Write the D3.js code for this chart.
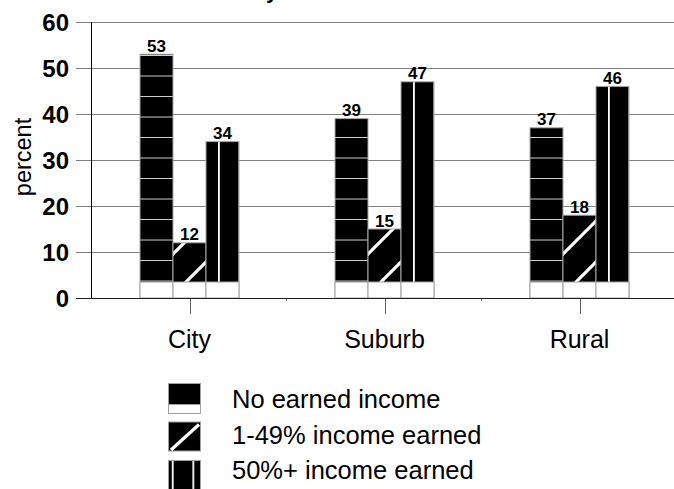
<!DOCTYPE html>
<html>
<head>
<meta charset="utf-8">
<script src="https://cdn.jsdelivr.net/npm/d3@7"></script>
<style>
  html, body { margin: 0; padding: 0; background: #fff; }
  svg { display: block; }
  text { font-family: "Liberation Sans", Arial, sans-serif; fill: #000; }
</style>
</head>
<body>
<svg id="chart" width="674" height="489"></svg>
<script>
// ---- data ----
const categories = ["City", "Suburb", "Rural"];
const seriesNames = ["No earned income", "1-49% income earned", "50%+ income earned"];
const noEarned = [53, 39, 37];
const partEarned = [12, 15, 18];
const mostEarned = [34, 47, 46];
const yTicks = [0, 10, 20, 30, 40, 50, 60];
const yLabel = "percent";
const titleText = "Families by Location";

const seriesValues = [noEarned, partEarned, mostEarned];
const patternIds = ["pHoriz", "pDiag", "pVert"];

const svg = d3.select("#chart");
const W = 674, H = 489;

const y = d3.scaleLinear().domain([0, 60]).range([298, 22]);
const x = d3.scaleBand().domain(categories).range([92, 677]).padding(0);
const xs = d3.scaleBand().domain(seriesNames).range([48, 147]).padding(0);

// ---- patterns ----
const defs = svg.append("defs");
const ph = defs.append("pattern").attr("id", "pHoriz").attr("patternUnits", "userSpaceOnUse")
  .attr("width", 20).attr("height", 20.5).attr("y", 15 - 20.5);
ph.append("rect").attr("width", 20).attr("height", 20.5).attr("fill", "#000");
ph.append("rect").attr("y", 20.5 - 0.8).attr("width", 20).attr("height", 1.6).attr("fill", "#fff");
const pv = defs.append("pattern").attr("id", "pVert").attr("patternUnits", "userSpaceOnUse")
  .attr("width", 20.6).attr("height", 20).attr("x", 3.3 - 0.9);
pv.append("rect").attr("width", 20.6).attr("height", 20).attr("fill", "#000");
pv.append("rect").attr("x", 0).attr("width", 1.8).attr("height", 20).attr("fill", "#fff");
const pd = defs.append("pattern").attr("id", "pDiag").attr("patternUnits", "userSpaceOnUse")
  .attr("width", 41).attr("height", 41);
pd.append("rect").attr("width", 41).attr("height", 41).attr("fill", "#000");
[7, 48, 89].forEach(c => {
  pd.append("line").attr("x1", c + 10).attr("y1", -10).attr("x2", -10).attr("y2", c + 10)
    .attr("stroke", "#fff").attr("stroke-width", 3.2);
});
const lv = defs.append("pattern").attr("id", "lVert").attr("patternUnits", "userSpaceOnUse")
  .attr("width", 20.6).attr("height", 20).attr("x", 7.9 - 0.9);
lv.append("rect").attr("width", 20.6).attr("height", 20).attr("fill", "#000");
lv.append("rect").attr("x", 0).attr("width", 1.8).attr("height", 20).attr("fill", "#fff");

// ---- title (mostly above the visible area, as in the reference) ----
const t = svg.append("text").attr("x", 0).attr("y", -2.2)
  .attr("font-size", 22).attr("font-weight", "bold").text(titleText);
try {
  const idx = titleText.indexOf("y");
  const p = t.node().getStartPositionOfChar(idx);
  t.attr("x", 266 - p.x);
} catch (e) { t.attr("x", 150); }

// ---- gridlines ----
svg.append("g").selectAll("line").data(yTicks.filter(d => d > 0)).join("line")
  .attr("x1", 76).attr("x2", W)
  .attr("y1", d => Math.round(y(d)) + 0.5).attr("y2", d => Math.round(y(d)) + 0.5)
  .attr("stroke", "#808080").attr("stroke-width", 1);

// ---- y tick labels ----
svg.append("g").selectAll("text").data(yTicks).join("text")
  .attr("x", 69).attr("y", d => y(d)).attr("dy", "0.36em")
  .attr("text-anchor", "end").attr("font-size", 24).attr("font-weight", "bold")
  .text(d => d);

// y label
svg.append("text").attr("transform", "translate(31,157) rotate(-90)")
  .attr("text-anchor", "middle").attr("font-size", 23.5).text(yLabel);

// ---- bars ----
const groups = svg.append("g").selectAll("g").data(categories).join("g")
  .attr("transform", d => `translate(${x(d)},0)`);

const barData = (cat, ci) => seriesNames.map((s, si) => ({ s, si, v: seriesValues[si][ci] }));

groups.each(function (cat, ci) {
  const g = d3.select(this);
  const bd = barData(cat, ci);
  g.selectAll("rect.bar").data(bd).join("rect").attr("class", "bar")
    .attr("x", d => xs(d.s)).attr("width", xs.bandwidth())
    .attr("y", d => y(d.v)).attr("height", d => y(0) - y(d.v))
    .attr("fill", d => `url(#${patternIds[d.si]})`)
    .attr("stroke", "#a8a8a8").attr("stroke-width", 1);
  g.selectAll("rect.base").data(bd).join("rect").attr("class", "base")
    .attr("x", d => xs(d.s)).attr("width", xs.bandwidth())
    .attr("y", y(0) - 16).attr("height", 16)
    .attr("fill", "#fff").attr("stroke", "#a0a0a0").attr("stroke-width", 1);
  g.selectAll("text.val").data(bd).join("text").attr("class", "val")
    .attr("x", d => xs(d.s) + xs.bandwidth() / 2).attr("y", d => y(d.v) - 2.5)
    .attr("text-anchor", "middle").attr("font-size", 17).attr("font-weight", "bold")
    .text(d => d.v);
});

// ---- axes lines ----
svg.append("line").attr("x1", 91.5).attr("x2", 91.5).attr("y1", y(60)).attr("y2", y(0))
  .attr("stroke", "#000").attr("stroke-width", 1);
svg.append("line").attr("x1", 76).attr("x2", W).attr("y1", 298.5).attr("y2", 298.5)
  .attr("stroke", "#202020").attr("stroke-width", 1);

svg.append("g").selectAll("line").data(categories).join("line")
  .attr("x1", d => Math.round(x(d) + x.bandwidth() / 2) + 0.5)
  .attr("x2", d => Math.round(x(d) + x.bandwidth() / 2) + 0.5)
  .attr("y1", 299).attr("y2", 314).attr("stroke", "#606060");
svg.append("g").selectAll("line").data(categories.slice(1)).join("line")
  .attr("x1", d => Math.round(x(d)) - 0.5).attr("x2", d => Math.round(x(d)) - 0.5)
  .attr("y1", 299).attr("y2", 301).attr("stroke", "#606060");

svg.append("g").selectAll("text").data(categories).join("text")
  .attr("x", d => x(d) + x.bandwidth() / 2).attr("y", 348)
  .attr("text-anchor", "middle").attr("font-size", 25).text(d => d);

// ---- legend ----
const legendTop = [383, 421.5, 460];
const legendBase = [408, 443.5, 478.5];
const lg = svg.append("g");
lg.append("rect").attr("x", 168.5).attr("y", legendTop[0] + 0.5).attr("width", 32).attr("height", 21)
  .attr("fill", "#000").attr("stroke", "#a0a0a0");
lg.append("rect").attr("x", 168.5).attr("y", legendTop[0] + 21.5).attr("width", 32).attr("height", 9)
  .attr("fill", "#fff").attr("stroke", "#a0a0a0");
lg.append("rect").attr("x", 168.5).attr("y", legendTop[1] + 0.5).attr("width", 32).attr("height", 29)
  .attr("fill", "#000").attr("stroke", "#a0a0a0");
lg.append("line").attr("x1", 171).attr("y1", legendTop[1] + 28.5).attr("x2", 199).attr("y2", legendTop[1] + 3)
  .attr("stroke", "#fff").attr("stroke-width", 3.2);
lg.append("rect").attr("x", 168.5).attr("y", legendTop[2] + 0.5).attr("width", 32).attr("height", 30)
  .attr("fill", "url(#lVert)").attr("stroke", "#a0a0a0");
lg.selectAll("text").data(seriesNames).join("text")
  .attr("x", 232).attr("y", (d, i) => legendBase[i])
  .attr("font-size", 25.5).text(d => d);
</script>
</body>
</html>
